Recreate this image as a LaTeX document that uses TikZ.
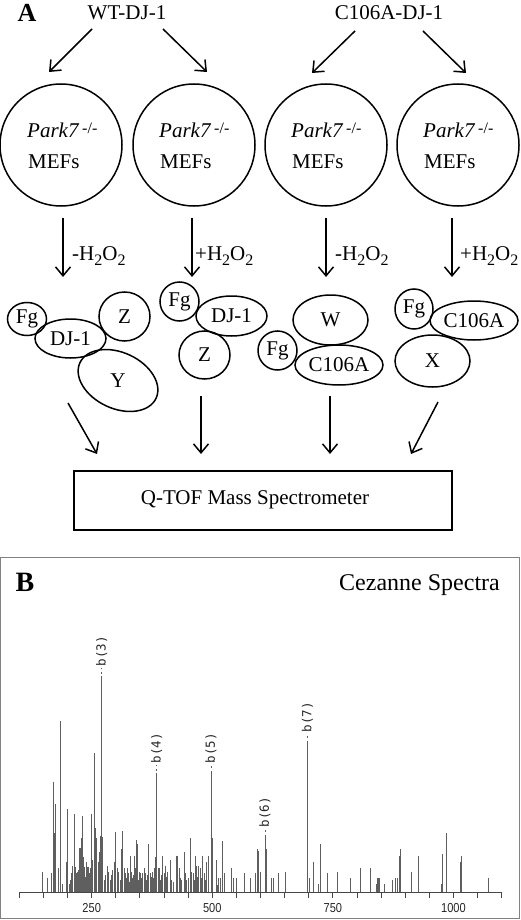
\documentclass[tikz,border=0pt]{standalone}
\usepackage{fontspec}
\setmainfont{Liberation Serif}
\newfontfamily\monof{DejaVu Sans Mono}
\newfontfamily\axf{Liberation Sans}
\usetikzlibrary{shapes.geometric,arrows.meta}
\definecolor{peakgray}{RGB}{95,95,95}
\definecolor{framegray}{RGB}{130,130,130}
\definecolor{axisgray}{RGB}{70,70,70}
\newcommand\subtwo{\raisebox{-5pt}{\fontsize{16}{16}\selectfont 2}}
\newcommand\hoo[1]{#1H\subtwo O\subtwo}
\newcommand\parkline{\textit{Park7}\hspace{3pt}\raisebox{4pt}{\fontsize{16}{16}\selectfont -/-}}
\begin{document}
\begin{tikzpicture}[x=1pt,y=-1pt,
  txt/.style={font=\fontsize{21}{25}\selectfont, inner sep=0pt},
  arr/.style={line width=1.5pt, -{Straight Barb[length=9pt,width=15pt]}},
  cell/.style={circle, draw, line width=1.5pt, minimum size=122pt, inner sep=0pt},
  blob/.style={ellipse, draw, line width=1.5pt, inner sep=0pt, font=\fontsize{21}{25}\selectfont},
  peak/.style={peakgray, line width=0.9pt},
  axisline/.style={axisgray, line width=0.9pt},
  blabel/.style={font=\monof\fontsize{12.5}{12.5}\selectfont, inner sep=0pt, rotate=90, anchor=west, text=black!85},
  ticklabel/.style={font=\axf\fontsize{13}{13}\selectfont, inner sep=0pt, xscale=0.85, text=black!85}]
\useasboundingbox (0,0) rectangle (520,920);

% ---------- Panel A ----------
\node[font=\bfseries\fontsize{26}{26}\selectfont, inner sep=0pt] (lblA) at (27,13) {A};
\node[txt] (wt) at (127,13) {WT-DJ-1};
\node[txt] (c106) at (389,13) {C106A-DJ-1};

\node[cell] (c1) at (61,145) {};
\node[cell] (c2) at (194,145) {};
\node[cell] (c3) at (326,145) {};
\node[cell] (c4) at (458,145) {};

\foreach \n/\x in {1/27,2/159,3/291,4/423}{
  \node[txt, anchor=base west] (p\n) at (\x,138) {\parkline};
  \node[txt, anchor=base west] (m\n) at (\x+1,168) {MEFs};
}

% top arrows
\coordinate (a1s) at (92,29);  \coordinate (a1e) at (49,72);
\coordinate (a2s) at (163,29); \coordinate (a2e) at (207,72);
\coordinate (a3s) at (355,31); \coordinate (a3e) at (312,73);
\coordinate (a4s) at (423,31); \coordinate (a4e) at (466,73);
\draw[arr] (a1s) -- (a1e);
\draw[arr] (a2s) -- (a2e);
\draw[arr] (a3s) -- (a3e);
\draw[arr] (a4s) -- (a4e);

% treatment arrows
\coordinate (v1s) at (63,218);  \coordinate (v1e) at (63,277);
\coordinate (v2s) at (192,218); \coordinate (v2e) at (192,277);
\coordinate (v3s) at (326,218); \coordinate (v3e) at (326,277);
\coordinate (v4s) at (452,218); \coordinate (v4e) at (452,277);
\draw[arr] (v1s) -- (v1e);
\draw[arr] (v2s) -- (v2e);
\draw[arr] (v3s) -- (v3e);
\draw[arr] (v4s) -- (v4e);
\node[txt, anchor=base west] (h1) at (72,260) {\hoo{-}};
\node[txt, anchor=base west] (h2) at (195,260) {\hoo{+}};
\node[txt, anchor=base west] (h3) at (335,260) {\hoo{-}};
\node[txt, anchor=base west] (h4) at (460,260) {\hoo{+}};

% group 1
\node[blob, minimum width=39pt, minimum height=33pt] (fg1) at (27,319) {Fg};
\node[blob, minimum width=71pt, minimum height=39pt] (dj1) at (70.5,338.5) {DJ-1};
\node[blob, minimum width=51pt, minimum height=49pt] (z1) at (124.5,316.5) {Z};
\node[blob, minimum width=84pt, minimum height=56pt, rotate=-25] (y1) at (118,380.5) {};
\node[txt] (y1t) at (118,381) {Y};
% group 2
\node[blob, minimum width=39pt, minimum height=39pt] (fg2) at (179.5,301.5) {Fg};
\node[blob, minimum width=71pt, minimum height=40pt] (dj2) at (231.5,316) {DJ-1};
\node[blob, minimum width=51pt, minimum height=48pt] (z2) at (204.5,355) {Z};
% group 3
\node[blob, minimum width=75pt, minimum height=50pt] (w3) at (330.5,320) {W};
\node[blob, minimum width=39pt, minimum height=39pt] (fg3) at (277.5,350.5) {Fg};
\node[blob, minimum width=88pt, minimum height=40pt] (ca3) at (339,365) {C106A};
% group 4
\node[blob, minimum width=38pt, minimum height=40pt] (fg4) at (414,309) {Fg};
\node[blob, minimum width=88pt, minimum height=39pt] (ca4) at (474,320.5) {C106A};
\node[blob, minimum width=75pt, minimum height=52pt] (x4) at (432.5,361) {X};

% Q-TOF
\node[draw, line width=1.5pt, minimum width=378pt, minimum height=59pt, inner sep=0pt] (qtof) at (263,500.5) {};
\node[txt] (qtoft) at (255,500) {Q-TOF Mass Spectrometer};

\coordinate (d1s) at (68,403);  \coordinate (d1e) at (97,454);
\coordinate (d2s) at (201,396); \coordinate (d2e) at (201,454);
\coordinate (d3s) at (330,396); \coordinate (d3e) at (330,454);
\coordinate (d4s) at (438,402); \coordinate (d4e) at (411,454);
\draw[arr] (d1s) -- (d1e);
\draw[arr] (d2s) -- (d2e);
\draw[arr] (d3s) -- (d3e);
\draw[arr] (d4s) -- (d4e);

% ---------- Panel B ----------
\draw[framegray, line width=1.3pt] (0.7,557.5) rectangle (519.3,918.3);
\node[font=\bfseries\fontsize{28}{28}\selectfont, inner sep=0pt] (lblB) at (25,582) {B};
\node[font=\fontsize{24}{28}\selectfont, inner sep=0pt, anchor=base east] (cez) at (500,590) {Cezanne Spectra};

\begin{scope}[shift={(0,700)}, x=0.33333pt, y=-0.33333pt]
  \foreach \a/\b in {127/517,143/535,155/520,160/245,163/400,166/312,175/503,182/63,186/553,
    200/485,203/328,207/553,218/497,222/343,225/500,232/517,238/445,242/445,245/415,248/347,
    250/470,253/500,258/485,262/500,265/500,275/343,278/480,282/158,285/385,290/415,295/485,
    298/455,302/407,307/410,322/498,325/517,342/485,347/397,352/503,356/517,365/448,368/393,
    372/503,378/533,382/503,386/520,390/467,394/517,398/533,402/467,405/503,410/420,413/433,
    418/517,422/520,428/520,432/503,446/433,450/520,457/517,462/503,466/470,474/503,478/503,
    488/467,492/520,497/497,503/517,510/481,515/540,528/467,533/467,538/503,542/535,552/455,
    556/520,571/415,575/517,580/520,585/467,590/497,596/497,602/503,608/467,612/520,618/487,
    624/467,637/415,648/481,652/555,656/535,660/535,668/423,672/520,693/503,700/535,710/535,
    732/520,750/535,765/520,772/448,776/453,780/517,798/448,815/535,820/535,836/520,855/517,
    928/535,940/485,955/553,962/433,983/520,1012/517,1050/535,1081/503,1110/503,1130/553,
    1133/535,1136/535,1139/535,1152/553,1176/540,1187/535,1192/535,1197/467,1200/448,1235/517,
    1255/467,1325/553,1328/463,1338/398,1380/485,1383/467,1464/535,
    210/540,213/520,228/520,235/510,255/530,268/520,272/505,288/530,312/540,316/525,330/540,
    335/525,338/510,345/530,360/540,375/520,380/540,388/545,396/540,400/525,408/530,415/540,
    425/535,435/520,440/540,443/525,452/540,455/530,460/535,468/520,481/540,484/525,495/540,
    500/530,520/545,545/540,560/540,565/535,583/540,593/530,600/540,605/535,615/540}{
    \draw[peak] (\a,\b) -- (\a,577);
  }
  % labelled peaks
  \foreach \n/\a/\b/\l in {3/305/-66/-100, 4/470/225/190, 5/633/218/190, 6/795/410/382, 7/922/128/97}{
    \draw[peak] (\a,\b) -- (\a,577);
    \draw[peak, line width=0.7pt, dash pattern=on 2pt off 2.5pt] (\a,\b) -- (\a,\l+4);
    \node[blabel] (b\n) at (\a,\l) {b(\n)};
  }
  % axis
  \draw[axisline] (58,577) -- (1505,577);
  \foreach \i in {0,...,20}{
    \draw[axisline] ({58+\i*72.35},577) -- ({58+\i*72.35},595);
  }
  \foreach \i/\t in {3/250,8/500,13/750,18/1000}{
    \node[ticklabel] (tl\t) at ({58+\i*72.35},625) {\t};
  }
\end{scope}
\end{tikzpicture}
\end{document}
